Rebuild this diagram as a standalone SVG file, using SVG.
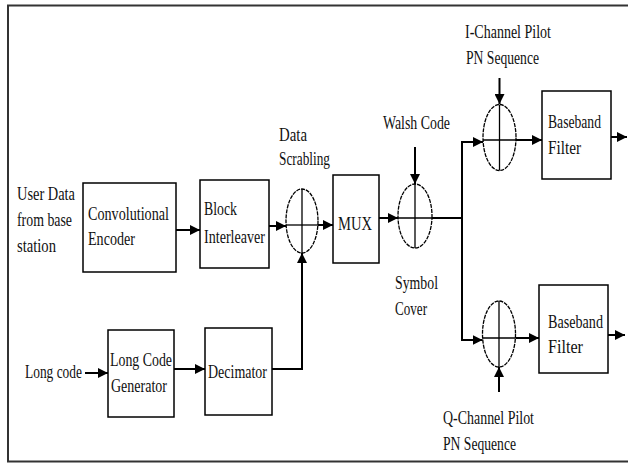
<svg xmlns="http://www.w3.org/2000/svg" width="628" height="463" viewBox="0 0 628 463">
<defs>
<marker id="ah" viewBox="0 0 10 10" markerUnits="userSpaceOnUse" markerWidth="10" markerHeight="10" refX="10" refY="5" orient="auto">
<path d="M0,0 L10,5 L0,10 z" fill="#000"/>
</marker>
</defs>
<style>
text{font-family:"Liberation Serif","Times New Roman",serif;font-size:19px;fill:#111}
.box{fill:#fff;stroke:#000;stroke-width:1.5}
.sum{fill:#fff;stroke:#000;stroke-width:1.3;stroke-dasharray:4 1}
.cross{stroke:#000;stroke-width:1.3}
.c{fill:none;stroke:#000;stroke-width:2}
.a{fill:none;stroke:#000;stroke-width:2;marker-end:url(#ah)}
</style>
<rect width="628" height="463" fill="#fff"/>
<rect x="8" y="5.5" width="640" height="456" fill="none" stroke="#333" stroke-width="2"/>

<g id="labels">
<text x="17" y="200" textLength="58" lengthAdjust="spacingAndGlyphs">User Data</text>
<text x="17" y="226" textLength="55" lengthAdjust="spacingAndGlyphs">from base</text>
<text x="17" y="252" textLength="39" lengthAdjust="spacingAndGlyphs">station</text>
<text x="25" y="378" textLength="57" lengthAdjust="spacingAndGlyphs">Long code</text>
<text x="279" y="141" textLength="28" lengthAdjust="spacingAndGlyphs">Data</text>
<text x="279" y="165" textLength="51" lengthAdjust="spacingAndGlyphs">Scrabling</text>
<text x="383" y="129" textLength="67" lengthAdjust="spacingAndGlyphs">Walsh Code</text>
<text x="395" y="289" textLength="43" lengthAdjust="spacingAndGlyphs">Symbol</text>
<text x="395" y="315" textLength="32" lengthAdjust="spacingAndGlyphs">Cover</text>
<text x="465" y="38" textLength="86" lengthAdjust="spacingAndGlyphs">I-Channel Pilot</text>
<text x="466" y="64" textLength="73" lengthAdjust="spacingAndGlyphs">PN Sequence</text>
<text x="443" y="424" textLength="91" lengthAdjust="spacingAndGlyphs">Q-Channel Pilot</text>
<text x="443" y="450" textLength="73" lengthAdjust="spacingAndGlyphs">PN Sequence</text>
</g>

<g id="conv-encoder">
<rect class="box" x="83" y="183" width="93" height="89"/>
<text x="88" y="220" textLength="81" lengthAdjust="spacingAndGlyphs">Convolutional</text>
<text x="88" y="245" textLength="47" lengthAdjust="spacingAndGlyphs">Encoder</text>
</g>

<g id="block-interleaver">
<rect class="box" x="200" y="180" width="69" height="88"/>
<text x="204" y="215" textLength="33" lengthAdjust="spacingAndGlyphs">Block</text>
<text x="204" y="243" textLength="61" lengthAdjust="spacingAndGlyphs">Interleaver</text>
</g>

<g id="scrambler">
<ellipse class="sum" cx="302" cy="221" rx="16" ry="32"/>
<line class="cross" x1="286" y1="225" x2="318" y2="225"/>
<line class="cross" x1="302" y1="189" x2="302" y2="253"/>
</g>

<g id="mux">
<rect class="box" x="333" y="175" width="46" height="88"/>
<text x="338" y="230" textLength="34" lengthAdjust="spacingAndGlyphs">MUX</text>
</g>

<g id="walsh-sum">
<ellipse class="sum" cx="415" cy="216" rx="17" ry="32"/>
<line class="cross" x1="398" y1="218" x2="432" y2="218"/>
<line class="cross" x1="415" y1="184" x2="415" y2="248"/>
</g>

<g id="i-sum">
<ellipse class="sum" cx="499.5" cy="137.5" rx="16.5" ry="33"/>
<line class="cross" x1="483" y1="140" x2="516" y2="140"/>
<line class="cross" x1="499.5" y1="104.5" x2="499.5" y2="170.5"/>
</g>

<g id="i-filter">
<rect class="box" x="542" y="91" width="69" height="88"/>
<text x="548" y="128" textLength="53" lengthAdjust="spacingAndGlyphs">Baseband</text>
<text x="548" y="154" textLength="33" lengthAdjust="spacingAndGlyphs">Filter</text>
</g>

<g id="q-sum">
<ellipse class="sum" cx="499" cy="334" rx="16.5" ry="33"/>
<line class="cross" x1="482.5" y1="338" x2="515.5" y2="338"/>
<line class="cross" x1="499" y1="301" x2="499" y2="367"/>
</g>

<g id="q-filter">
<rect class="box" x="539" y="285" width="69" height="88"/>
<text x="548" y="328" textLength="55" lengthAdjust="spacingAndGlyphs">Baseband</text>
<text x="548" y="353" textLength="35" lengthAdjust="spacingAndGlyphs">Filter</text>
</g>

<g id="long-code-gen">
<rect class="box" x="108" y="330" width="66" height="87"/>
<text x="110" y="366" textLength="62" lengthAdjust="spacingAndGlyphs">Long Code</text>
<text x="111" y="392" textLength="56" lengthAdjust="spacingAndGlyphs">Generator</text>
</g>

<g id="decimator">
<rect class="box" x="205" y="328" width="67" height="87"/>
<text x="208" y="378" textLength="59" lengthAdjust="spacingAndGlyphs">Decimator</text>
</g>

<g id="connectors">
<line class="a" x1="176" y1="230" x2="200" y2="230"/>
<line class="a" x1="269" y1="226" x2="286" y2="226"/>
<line class="a" x1="318" y1="225" x2="333" y2="225"/>
<line class="a" x1="379" y1="218" x2="398" y2="218"/>
<line class="a" x1="415" y1="147" x2="415" y2="184"/>
<polyline class="c" points="432,218 462,218"/>
<polyline class="a" points="462,218 462,142 483,142"/>
<polyline class="a" points="462,218 462,340 482.5,340"/>
<line class="a" x1="499.5" y1="78" x2="499.5" y2="104"/>
<line class="a" x1="499" y1="392" x2="499" y2="367"/>
<line class="a" x1="516" y1="140" x2="542" y2="140"/>
<line class="a" x1="515.5" y1="338" x2="539" y2="338"/>
<line class="a" x1="611" y1="137" x2="627" y2="137"/>
<line class="a" x1="608" y1="335" x2="625" y2="335"/>
<line class="a" x1="85" y1="373" x2="108" y2="373"/>
<line class="a" x1="174" y1="369" x2="205" y2="369"/>
<polyline class="a" points="272,369 302,369 302,253"/>
</g>
</svg>
